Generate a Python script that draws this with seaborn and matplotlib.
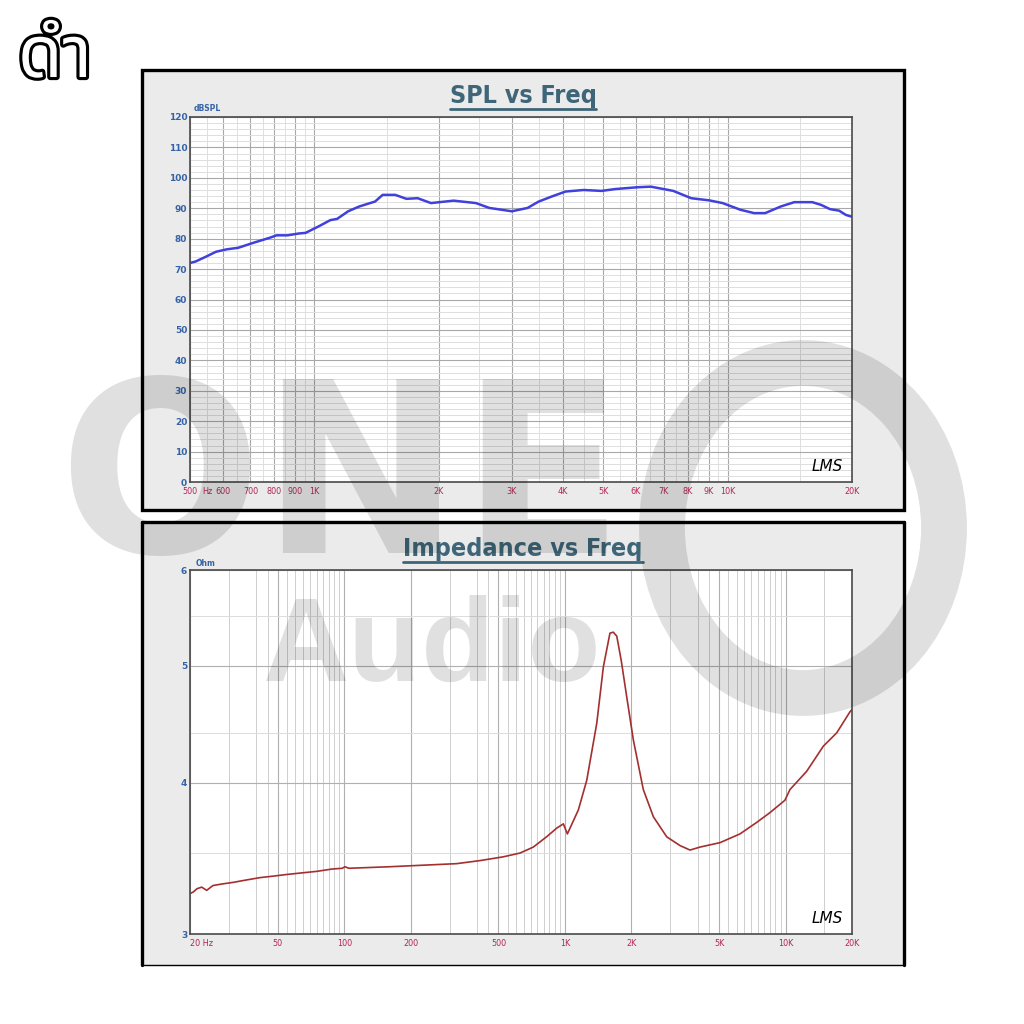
import numpy as np
import pandas as pd
import matplotlib
matplotlib.use("Agg")
import matplotlib.pyplot as plt
import seaborn as sns
from matplotlib.patches import Rectangle, Ellipse
from matplotlib.lines import Line2D
import matplotlib.patheffects as pe
from matplotlib.ticker import FixedLocator, NullFormatter

# ---------------- data ----------------
spl_freq = [500, 516, 545, 578, 614, 654, 714, 780, 810, 861, 917, 952, 1026, 1093, 1135,
            1207, 1285, 1402, 1463, 1569, 1670, 1778, 1915, 2172, 2460, 2652, 3005, 3280,
            3490, 3760, 4055, 4485, 4955, 5335, 6050, 6520, 7390, 8165, 9020, 9725, 10740,
            11590, 12330, 13460, 14500, 16030, 16840, 17700, 18620, 19330, 20000]
spl_db = [72.0, 72.5, 74.0, 75.7, 76.5, 77.0, 78.7, 80.3, 81.1, 81.1, 81.7, 81.9, 84.1, 86.1, 86.5,
          89.0, 90.6, 92.2, 94.4, 94.4, 93.1, 93.3, 91.7, 92.5, 91.7, 90.1, 89.0, 90.1,
          92.2, 93.9, 95.5, 96.0, 95.7, 96.3, 96.9, 97.1, 95.7, 93.3, 92.6, 91.7, 89.5,
          88.4, 88.4, 90.6, 92.0, 92.0, 91.1, 89.7, 89.2, 87.8, 87.2]

imp_freq = [20, 20.7, 21.5, 22.6, 23.8, 25.4, 28, 31.4, 36, 41.5, 48, 54.8, 64, 75, 88, 98,
            100.7, 105, 130, 161, 228, 323, 412, 526, 626, 719, 826, 918, 984, 1026, 1151,
            1256, 1394, 1494, 1600, 1656, 1718, 1800, 1907, 2043, 2266, 2518, 2893, 3325,
            3690, 4095, 5045, 6215, 7395, 8495, 9930, 10470, 12470, 14830, 17050, 19580, 20000]
imp_ohm = [3.24, 3.25, 3.27, 3.28, 3.26, 3.29, 3.30, 3.31, 3.325, 3.34, 3.35, 3.36, 3.37, 3.38, 3.395, 3.40,
           3.41, 3.40, 3.405, 3.41, 3.42, 3.43, 3.45, 3.475, 3.50, 3.54, 3.61, 3.67, 3.70, 3.63, 3.80,
           4.02, 4.48, 4.99, 5.32, 5.33, 5.29, 5.05, 4.71, 4.34, 3.95, 3.75, 3.61, 3.55,
           3.52, 3.54, 3.57, 3.63, 3.71, 3.78, 3.87, 3.95, 4.09, 4.29, 4.40, 4.58, 4.60]

spl_xticks = [500, 600, 700, 800, 900, 1000, 2000, 3000, 4000, 5000, 6000, 7000, 8000, 9000, 10000, 20000]
spl_xlabels = ["500", "600", "700", "800", "900", "1K", "2K", "3K", "4K", "5K", "6K", "7K", "8K", "9K", "10K", "20K"]
spl_xminor = [550, 650, 750, 850, 950, 1500, 2500, 3500, 4500, 5500, 6500, 7500, 8500, 9500, 15000]
spl_yticks = list(range(0, 121, 10))
spl_yminor = [v for v in range(0, 121, 2) if v % 10]

imp_xticks = [20, 50, 100, 200, 500, 1000, 2000, 5000, 10000, 20000]
imp_xlabels = ["20 Hz", "50", "100", "200", "500", "1K", "2K", "5K", "10K", "20K"]
imp_xgrid = [m * d for d in (10, 100, 1000) for m in range(2, 10)] + [10000, 20000]
imp_xminor = [m * d + d / 2 for d in (10, 100, 1000) for m in range(4, 10)] + [15000]
imp_yticks = [3, 4, 5, 6]
imp_yminor = [3.5, 4.4, 5.5]

df_spl = pd.DataFrame({"freq": spl_freq, "db": spl_db})
df_imp = pd.DataFrame({"freq": imp_freq, "ohm": imp_ohm})

# ---------------- style ----------------
sns.set_theme(style="white")
plt.rcParams["font.family"] = ["DejaVu Sans"]

W = 1024.0
def fx(x):
    return x / W
def fy(y):
    return 1 - y / W

fig = plt.figure(figsize=(10.24, 10.24), dpi=100)
fig.patch.set_facecolor("white")

FRAME_BG = "#ebebeb"
TITLE_C = "#3e6678"
YLAB_C = "#3563a6"
XLAB_C = "#b5245a"

# frames
fig.add_artist(Rectangle((fx(142), fy(510)), fx(762), 440 / W, transform=fig.transFigure,
                         facecolor=FRAME_BG, edgecolor="black", lw=2.4, zorder=0))
fig.add_artist(Rectangle((fx(142), fy(965)), fx(762), 443 / W, transform=fig.transFigure,
                         facecolor=FRAME_BG, edgecolor="none", zorder=0))
for xs, ys, lw in [([142, 142], [522, 965], 2.4), ([904, 904], [522, 965], 2.4),
                   ([142, 904], [522, 522], 2.4), ([142, 904], [965, 965], 1.0)]:
    fig.add_artist(Line2D([fx(v) for v in xs], [fy(v) for v in ys], transform=fig.transFigure,
                          color="black", lw=lw, zorder=0.5))

ax1 = fig.add_axes([fx(190), fy(482), fx(662), 365 / W])
ax2 = fig.add_axes([fx(190), fy(934), fx(662), 364 / W])

for ax in (ax1, ax2):
    ax.set_facecolor("white")
    for s in ax.spines.values():
        s.set_color("#4a4a4a")
        s.set_linewidth(1.2)
        s.set_visible(True)
    ax.set_xscale("log")
    ax.set_axisbelow(True)

# ---- SPL ----
sns.lineplot(data=df_spl, x="freq", y="db", ax=ax1, color="#4040dc", lw=1.8,
             estimator=None, sort=False)
ax1.set_xlim(500, 20000)
ax1.set_ylim(0, 120)
ax1.xaxis.set_major_locator(FixedLocator(spl_xticks))
ax1.xaxis.set_minor_locator(FixedLocator(spl_xminor))
ax1.set_xticks(spl_xticks)
ax1.set_xticklabels(spl_xlabels)
ax1.xaxis.set_minor_formatter(NullFormatter())
ax1.yaxis.set_major_locator(FixedLocator(spl_yticks))
ax1.yaxis.set_minor_locator(FixedLocator(spl_yminor))
ax1.grid(which="major", axis="both", color="#a8a8a8", lw=0.8)
ax1.grid(which="minor", axis="both", color="#dedede", lw=0.7)
ax1.set_xlabel("")
ax1.set_ylabel("")
ax1.annotate("Hz", xy=(550, 0), xycoords=("data", "axes fraction"), xytext=(0, -3.5),
             textcoords="offset points", ha="center", va="top", fontsize=6.5, color=XLAB_C,
             fontstretch="condensed")
ax1.text(0.005, 1.012, "dBSPL", transform=ax1.transAxes, fontsize=5.5,
         color=YLAB_C, ha="left", va="bottom", fontweight="bold")

# ---- Impedance ----
sns.lineplot(data=df_imp, x="freq", y="ohm", ax=ax2, color="#a32f2f", lw=1.2,
             estimator=None, sort=False)
ax2.set_yscale("log")
ax2.set_xlim(20, 20000)
ax2.set_ylim(3, 6)
ax2.xaxis.set_major_locator(FixedLocator(imp_xticks))
ax2.set_xticks(imp_xticks)
ax2.set_xticklabels(imp_xlabels)
ax2.xaxis.set_minor_locator(FixedLocator(imp_xgrid + imp_xminor))
ax2.xaxis.set_minor_formatter(NullFormatter())
ax2.yaxis.set_major_locator(FixedLocator(imp_yticks))
ax2.set_yticks(imp_yticks)
ax2.set_yticklabels([str(v) for v in imp_yticks])
ax2.yaxis.set_minor_locator(FixedLocator(imp_yminor))
ax2.yaxis.set_minor_formatter(NullFormatter())
ax2.grid(which="major", axis="both", color="#b0b0b0", lw=0.8)
ax2.grid(which="minor", axis="x", color="#c8c8c8", lw=0.6)
ax2.grid(which="minor", axis="y", color="#dcdcdc", lw=0.7)
ax2.set_xlabel("")
ax2.set_ylabel("")
ax2.get_xticklabels()[0].set_horizontalalignment("left")
ax2.text(0.008, 1.006, "Ohm", transform=ax2.transAxes, fontsize=5.5,
         color=YLAB_C, ha="left", va="bottom", fontweight="bold")

for ax in (ax1, ax2):
    ax.tick_params(axis="both", which="both", length=0)
    ax.tick_params(axis="x", which="major", pad=3.5, labelsize=6.5, labelcolor=XLAB_C)
    ax.tick_params(axis="y", which="major", pad=2, labelsize=6.5, labelcolor=YLAB_C)
    for lab in ax.get_yticklabels():
        lab.set_fontweight("bold")
    for lab in ax.get_xticklabels():
        lab.set_fontstretch("condensed")
    ax.text(0.962, 0.042, "LMS", transform=ax.transAxes, fontsize=11, fontstyle="italic",
            family="DejaVu Sans", color="black", ha="center", va="center")

# ---- titles with underline ----
titles = []
titles.append(fig.text(fx(523), fy(96), "SPL vs Freq", ha="center", va="center", fontsize=18,
                       fontweight="bold", color=TITLE_C, fontstretch="condensed",
                       family=["DejaVu Sans"]))
titles.append(fig.text(fx(523), fy(549), "Impedance vs Freq", ha="center", va="center", fontsize=18,
                       fontweight="bold", color=TITLE_C, fontstretch="condensed",
                       family=["DejaVu Sans"]))

# ---- Thai label ----
fig.text(fx(18), fy(58), "ดำ", fontsize=52, color="white", ha="left", va="center",
         family=["Noto Sans Thai", "Noto Sans Thai Looped", "Noto Sans", "DejaVu Sans"],
         path_effects=[pe.withStroke(linewidth=4.5, foreground="black")])

# ---- watermark ----
wm = dict(color="black", alpha=0.12, zorder=100)
fig.text(fx(58), fy(487), "ONE", fontsize=172, fontweight="bold", ha="left", va="center",
         family="DejaVu Sans", **wm)
fig.text(fx(262), fy(650), "Audio", fontsize=86, fontweight="bold", ha="left", va="center",
         family="Liberation Sans", **wm)
fig.add_artist(Ellipse((fx(803), fy(528)), 282 / W, 330 / W, transform=fig.transFigure, fill=False,
                       lw=33, edgecolor="black", alpha=0.12, zorder=100))

fig.canvas.draw()
renderer = fig.canvas.get_renderer()
for t in titles:
    bb = t.get_window_extent(renderer)
    fig.add_artist(Line2D([bb.x0 / W, bb.x1 / W], [(bb.y0 - 1) / W] * 2, transform=fig.transFigure,
                          color=TITLE_C, lw=2.0))

fig.savefig("out.png", dpi=100)
